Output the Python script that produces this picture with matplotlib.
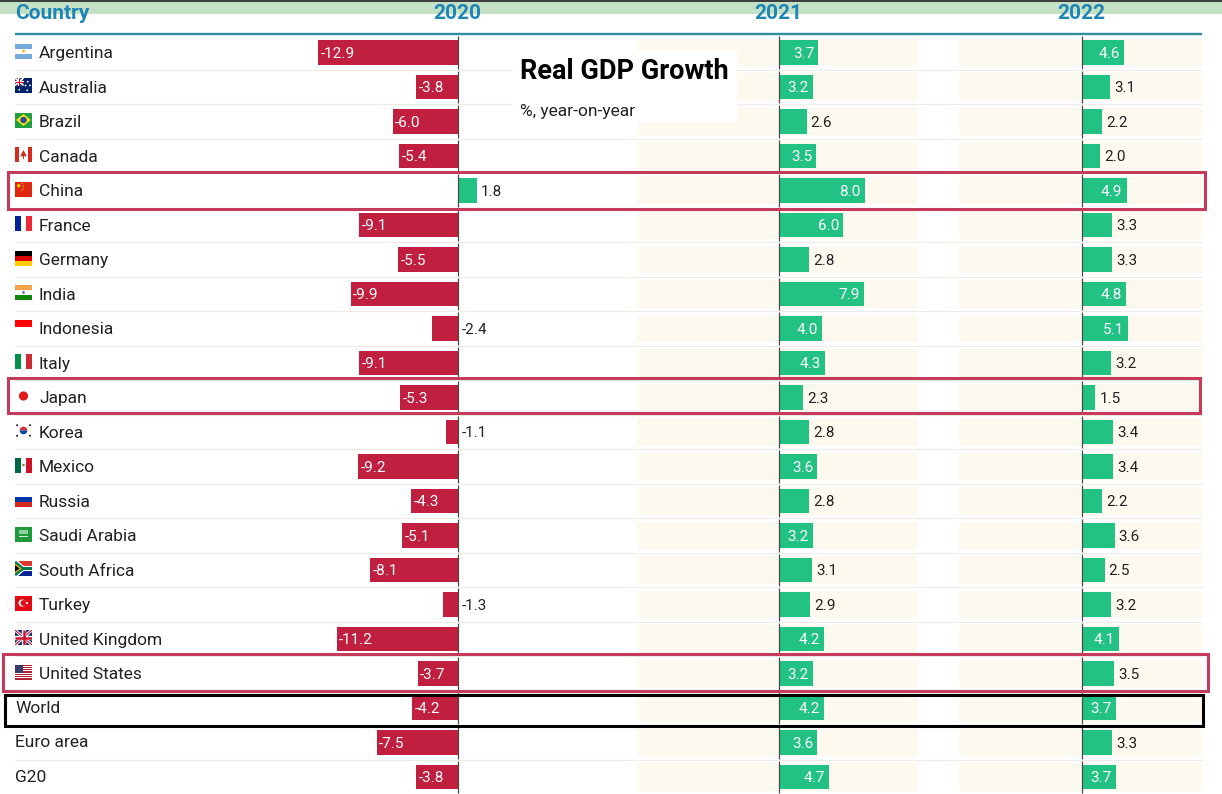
import matplotlib
matplotlib.use('Agg')
import matplotlib.pyplot as plt
from matplotlib.patches import Rectangle, Polygon, Circle, Wedge
import matplotlib.transforms as mtransforms

# ---------------- data ----------------
countries = ['Argentina', 'Australia', 'Brazil', 'Canada', 'China', 'France', 'Germany',
             'India', 'Indonesia', 'Italy', 'Japan', 'Korea', 'Mexico', 'Russia',
             'Saudi Arabia', 'South Africa', 'Turkey', 'United Kingdom', 'United States',
             'World', 'Euro area', 'G20']
flag_codes = ['ar', 'au', 'br', 'ca', 'cn', 'fr', 'de', 'in', 'id', 'it', 'jp', 'kr', 'mx',
              'ru', 'sa', 'za', 'tr', 'gb', 'us', None, None, None]
gdp_2020 = [-12.9, -3.8, -6.0, -5.4, 1.8, -9.1, -5.5, -9.9, -2.4, -9.1, -5.3, -1.1, -9.2,
            -4.3, -5.1, -8.1, -1.3, -11.2, -3.7, -4.2, -7.5, -3.8]
gdp_2021 = [3.7, 3.2, 2.6, 3.5, 8.0, 6.0, 2.8, 7.9, 4.0, 4.3, 2.3, 2.8, 3.6, 2.8, 3.2, 3.1,
            2.9, 4.2, 3.2, 4.2, 3.6, 4.7]
gdp_2022 = [4.6, 3.1, 2.2, 2.0, 4.9, 3.3, 3.3, 4.8, 5.1, 3.2, 1.5, 3.4, 3.4, 2.2, 3.6, 2.5,
            3.2, 4.1, 3.5, 3.7, 3.3, 3.7]
years = ['2020', '2021', '2022']
series = [gdp_2020, gdp_2021, gdp_2022]
highlight_red = ['China', 'Japan', 'United States']
highlight_black = ['World']
title = 'Real GDP Growth'
subtitle = '%, year-on-year'

# ---------------- style ----------------
W, H = 1222, 794
DPI = 100
FONT = 'Roboto'
RED = '#c01f3f'
GREEN = '#22c184'
CREAM = '#fdf9ef'
HEAD = '#1f85b5'
TEAL = '#2f8f9d'
BOX_RED = '#c43b5c'
TXT = '#222222'
VAL_FS = 11

ROW0 = 52.5      # px centre of first row
ROWH = 34.5      # px row height
TOP = ROW0 - ROWH / 2
n = len(countries)

def px2fx(x):
    return x / W

def py2fy(y):
    return 1 - y / H

fig = plt.figure(figsize=(W / DPI, H / DPI), dpi=DPI)
fig.patch.set_facecolor('white')

# background layer in pixel coordinates
bg = fig.add_axes([0, 0, 1, 1], zorder=0)
bg.set_xlim(0, W); bg.set_ylim(H, 0); bg.axis('off')
bg.add_patch(Rectangle((0, 0), W, 13.5, color='#c4e0c5', lw=0))
bg.plot([0, W], [0.6, 0.6], color='#3a3a3a', lw=1.4, solid_capstyle='butt')
bg.plot([15, 1202], [34.2, 34.2], color=TEAL, lw=1.7, solid_capstyle='butt')
for i in range(n - 1):
    yb = ROW0 + ROWH * (i + 0.5)
    bg.plot([15, 1202], [yb, yb], color='#efece3', lw=0.8)

bg.text(15, 19, 'Country', fontsize=15, fontweight='bold', color=HEAD,
        family=FONT, va='baseline', ha='left')

# year columns: (left px, right px, zero px, px per unit, cream band px range)
cols = [(300, 637, 457.5, 10.8, None),
        (637, 959, 778.5, 10.8, (637, 918)),
        (959, 1202, 1081.5, 9.2, (959, 1202))]

ymax_data = (H - ROW0) / ROWH
for k, (xl, xr, x0, ppu, cream) in enumerate(cols):
    vals = series[k]
    ax = fig.add_axes([px2fx(xl), 0, px2fx(xr - xl), py2fy(TOP)], zorder=1)
    ax.set_facecolor('none')
    ax.set_xlim((xl - x0) / ppu, (xr - x0) / ppu)
    ax.set_ylim(ymax_data, -0.5)
    ax.axis('off')
    bg.text(x0, 19, years[k], fontsize=15, fontweight='bold', color=HEAD,
            family=FONT, va='baseline', ha='center')
    if cream is not None:
        tr = mtransforms.blended_transform_factory(ax.transAxes, ax.transData)
        f0 = (cream[0] - xl) / (xr - xl)
        f1 = (cream[1] - xl) / (xr - xl)
        for i in range(n):
            ax.add_patch(Rectangle((f0, i - 0.4), f1 - f0, 0.8, transform=tr,
                                   color=CREAM, lw=0, zorder=0))
    colors = [GREEN if v >= 0 else RED for v in vals]
    ax.barh(range(n), vals, height=0.71, color=colors, zorder=2)
    for i in range(n):
        ax.vlines(0, i - 0.47, i + 0.47, color='#4a4a4a', lw=0.9, zorder=3)
    # pixels per data unit from the axes transform
    p0 = ax.transData.transform((0, 0))[0]
    p1 = ax.transData.transform((1, 0))[0]
    ppu_real = (p1 - p0)
    for i, v in enumerate(vals):
        wpx = abs(v) * ppu_real
        inside = wpx >= 33.8
        if inside:
            if v >= 0:
                ax.annotate(f'{v:.1f}', (v, i), xytext=(-3, -1), textcoords='offset points',
                            ha='right', va='center', color='white', fontsize=VAL_FS,
                            family=FONT, zorder=4)
            else:
                ax.annotate(f'{v:.1f}', (v, i), xytext=(1.8, -1), textcoords='offset points',
                            ha='left', va='center', color='white', fontsize=VAL_FS,
                            family=FONT, zorder=4)
        else:
            xa = v if v >= 0 else 0
            ax.annotate(f'{v:.1f}', (xa, i), xytext=(3, -1), textcoords='offset points',
                        ha='left', va='center', color=TXT, fontsize=VAL_FS,
                        family=FONT, zorder=4, annotation_clip=False)

# foreground layer in pixel coordinates
fg = fig.add_axes([0, 0, 1, 1], zorder=2)
fg.set_facecolor('none')
fg.set_xlim(0, W); fg.set_ylim(H, 0); fg.axis('off')

# title box
fg.add_patch(Rectangle((513, 50), 224, 73, color='white', lw=0, zorder=1))
fg.text(520, 79, title, fontsize=19.5, fontweight='bold', color='black', family=FONT,
        va='baseline', ha='left', zorder=2)
fg.text(520, 116, subtitle, fontsize=12.5, color=TXT, family=FONT,
        va='baseline', ha='left', zorder=2)


def draw_flag(code, x0, yc, w=17.0, h=15.0):
    y0 = yc - h / 2
    Z = 5

    def R(u0, v0, u1, v1, c):
        p = Rectangle((x0 + u0 * w, y0 + v0 * h), (u1 - u0) * w, (v1 - v0) * h,
                      facecolor=c, lw=0, zorder=Z)
        fg.add_patch(p)
        return p

    def P(pts, c):
        fg.add_patch(Polygon([(x0 + u * w, y0 + v * h) for u, v in pts],
                             closed=True, facecolor=c, lw=0, zorder=Z + 1))

    def C(u, v, r, c, z=Z + 1):
        fg.add_patch(Circle((x0 + u * w, y0 + v * h), r, facecolor=c, lw=0, zorder=z))

    def L(u0, v0, u1, v1, c, lw, clip):
        ln, = fg.plot([x0 + u0 * w, x0 + u1 * w], [y0 + v0 * h, y0 + v1 * h],
                      color=c, lw=lw, zorder=Z + 1, solid_capstyle='butt')
        ln.set_clip_path(clip)

    if code == 'ar':
        R(0, 0, 1, 1 / 3, '#75aadb'); R(0, 1 / 3, 1, 2 / 3, 'white'); R(0, 2 / 3, 1, 1, '#75aadb')
        C(0.5, 0.5, 1.4, '#f6b40e')
    elif code == 'au':
        base = R(0, 0, 1, 1, '#012169')
        L(0, 0, 0.5, 0.5, 'white', 1.2, base); L(0.5, 0, 0, 0.5, 'white', 1.2, base)
        L(0.25, 0, 0.25, 0.5, 'white', 1.6, base); L(0, 0.25, 0.5, 0.25, 'white', 1.6, base)
        L(0.25, 0, 0.25, 0.5, '#c8102e', 0.8, base); L(0, 0.25, 0.5, 0.25, '#c8102e', 0.8, base)
        for (u, v) in [(0.25, 0.78), (0.75, 0.25), (0.88, 0.5), (0.72, 0.82), (0.62, 0.5)]:
            C(u, v, 0.9, 'white')
    elif code == 'br':
        R(0, 0, 1, 1, '#229e45')
        P([(0.5, 0.1), (0.93, 0.5), (0.5, 0.9), (0.07, 0.5)], '#f8e509')
        C(0.5, 0.5, 3.2, '#2b49a3', z=Z + 2)
    elif code == 'ca':
        R(0, 0, 0.25, 1, '#d52b1e'); R(0.25, 0, 0.75, 1, 'white'); R(0.75, 0, 1, 1, '#d52b1e')
        P([(0.5, 0.2), (0.62, 0.45), (0.68, 0.65), (0.5, 0.6), (0.32, 0.65), (0.38, 0.45)], '#d52b1e')
        R(0.48, 0.55, 0.52, 0.8, '#d52b1e')
    elif code == 'cn':
        R(0, 0, 1, 1, '#de2910')
        C(0.22, 0.28, 1.6, '#ffde00')
        for (u, v) in [(0.42, 0.12), (0.5, 0.28), (0.5, 0.45), (0.42, 0.58)]:
            C(u, v, 0.6, '#ffde00')
    elif code == 'fr':
        R(0, 0, 1 / 3, 1, '#002395'); R(1 / 3, 0, 2 / 3, 1, 'white'); R(2 / 3, 0, 1, 1, '#ed2939')
    elif code == 'de':
        R(0, 0, 1, 1 / 3, '#000000'); R(0, 1 / 3, 1, 2 / 3, '#dd0000'); R(0, 2 / 3, 1, 1, '#ffce00')
    elif code == 'in':
        R(0, 0, 1, 1 / 3, '#f4a24a'); R(0, 1 / 3, 1, 2 / 3, 'white'); R(0, 2 / 3, 1, 1, '#138808')
        C(0.5, 0.5, 1.4, '#6a6aa8')
    elif code == 'id':
        R(0, 0, 1, 0.5, '#ff0000'); R(0, 0.5, 1, 1, 'white')
    elif code == 'it':
        R(0, 0, 1 / 3, 1, '#009246'); R(1 / 3, 0, 2 / 3, 1, 'white'); R(2 / 3, 0, 1, 1, '#ce2b37')
    elif code == 'jp':
        R(0, 0, 1, 1, 'white')
        C(0.5, 0.5, 4.6, '#e01b1b')
    elif code == 'kr':
        R(0, 0, 1, 1, 'white')
        cx, cy = x0 + 0.5 * w, y0 + 0.5 * h
        fg.add_patch(Wedge((cx, cy), 3.8, 180, 360, facecolor='#cd2e3a', lw=0, zorder=Z + 1))
        fg.add_patch(Wedge((cx, cy), 3.8, 0, 180, facecolor='#0047a0', lw=0, zorder=Z + 1))
        for (u, v) in [(0.12, 0.15), (0.88, 0.15), (0.12, 0.85), (0.88, 0.85)]:
            C(u, v, 1.0, '#222222')
    elif code == 'mx':
        R(0, 0, 1 / 3, 1, '#006847'); R(1 / 3, 0, 2 / 3, 1, 'white'); R(2 / 3, 0, 1, 1, '#ce1126')
        C(0.5, 0.5, 1.2, '#8c6a3c')
    elif code == 'ru':
        R(0, 0, 1, 1 / 3, 'white'); R(0, 1 / 3, 1, 2 / 3, '#0039a6'); R(0, 2 / 3, 1, 1, '#d52b1e')
    elif code == 'sa':
        R(0, 0, 1, 1, '#1e9a3c')
        R(0.25, 0.25, 0.75, 0.5, '#8fd19e')
        R(0.25, 0.65, 0.75, 0.72, '#d6efd9')
    elif code == 'za':
        R(0, 0, 1, 0.5, '#de3831'); R(0, 0.5, 1, 1, '#002395')
        P([(0, 0), (0.18, 0), (0.52, 0.33), (1, 0.33), (1, 0.67), (0.52, 0.67), (0.18, 1), (0, 1)], 'white')
        fg.add_patch(Polygon([(x0 + u * w, y0 + v * h) for u, v in
                              [(0, 0.06), (0.06, 0), (0.48, 0.4), (1, 0.4), (1, 0.6), (0.48, 0.6), (0.06, 1), (0, 0.94)]],
                             facecolor='#007a4d', lw=0, zorder=Z + 2))
        fg.add_patch(Polygon([(x0 + u * w, y0 + v * h) for u, v in [(0, 0.18), (0.4, 0.5), (0, 0.82)]],
                             facecolor='#ffb612', lw=0, zorder=Z + 3))
        fg.add_patch(Polygon([(x0 + u * w, y0 + v * h) for u, v in [(0, 0.28), (0.28, 0.5), (0, 0.72)]],
                             facecolor='#000000', lw=0, zorder=Z + 4))
    elif code == 'tr':
        R(0, 0, 1, 1, '#e30a17')
        C(0.42, 0.5, 3.6, 'white', z=Z + 1)
        C(0.5, 0.5, 2.9, '#e30a17', z=Z + 2)
        C(0.7, 0.5, 1.1, 'white', z=Z + 3)
    elif code == 'gb':
        base = R(0, 0, 1, 1, '#012169')
        L(0, 0, 1, 1, 'white', 2.2, base); L(1, 0, 0, 1, 'white', 2.2, base)
        L(0, 0, 1, 1, '#c8102e', 0.8, base); L(1, 0, 0, 1, '#c8102e', 0.8, base)
        L(0.5, 0, 0.5, 1, 'white', 3.2, base); L(0, 0.5, 1, 0.5, 'white', 3.2, base)
        L(0.5, 0, 0.5, 1, '#c8102e', 1.8, base); L(0, 0.5, 1, 0.5, '#c8102e', 1.8, base)
    elif code == 'us':
        for s in range(13):
            R(0, s / 13, 1, (s + 1) / 13, '#b22234' if s % 2 == 0 else 'white')
        R(0, 0, 0.45, 7 / 13, '#3c3b6e')


for i, (name, code) in enumerate(zip(countries, flag_codes)):
    yc = ROW0 + ROWH * i
    if code is not None:
        draw_flag(code, 15, yc - 1.5)
        fg.text(39, yc + 1.2, name, fontsize=12.5, color=TXT, family=FONT, va='center', ha='left', zorder=6)
    else:
        fg.text(15, yc + 0.2, name, fontsize=12.5, color=TXT, family=FONT, va='center', ha='left', zorder=6)

# highlight boxes (x0, x1, top offset, bottom offset relative to row centre)
box_geom = {'China': (8, 1205, -18.5, 18.5),
            'Japan': (8, 1200, -19.5, 15.5),
            'United States': (3, 1208, -19.5, 17.5)}
for name in highlight_red:
    i = countries.index(name)
    yc = ROW0 + ROWH * i
    x_a, x_b, t, b = box_geom[name]
    fg.add_patch(Rectangle((x_a, yc + t), x_b - x_a, b - t, fill=False,
                           edgecolor=BOX_RED, lw=2.2, zorder=7))
for name in highlight_black:
    i = countries.index(name)
    yc = ROW0 + ROWH * i
    fg.add_patch(Rectangle((5, yc - 13), 1198, 31, fill=False,
                           edgecolor='black', lw=2.2, zorder=7))

fig.savefig('out.png', dpi=DPI, facecolor='white')
